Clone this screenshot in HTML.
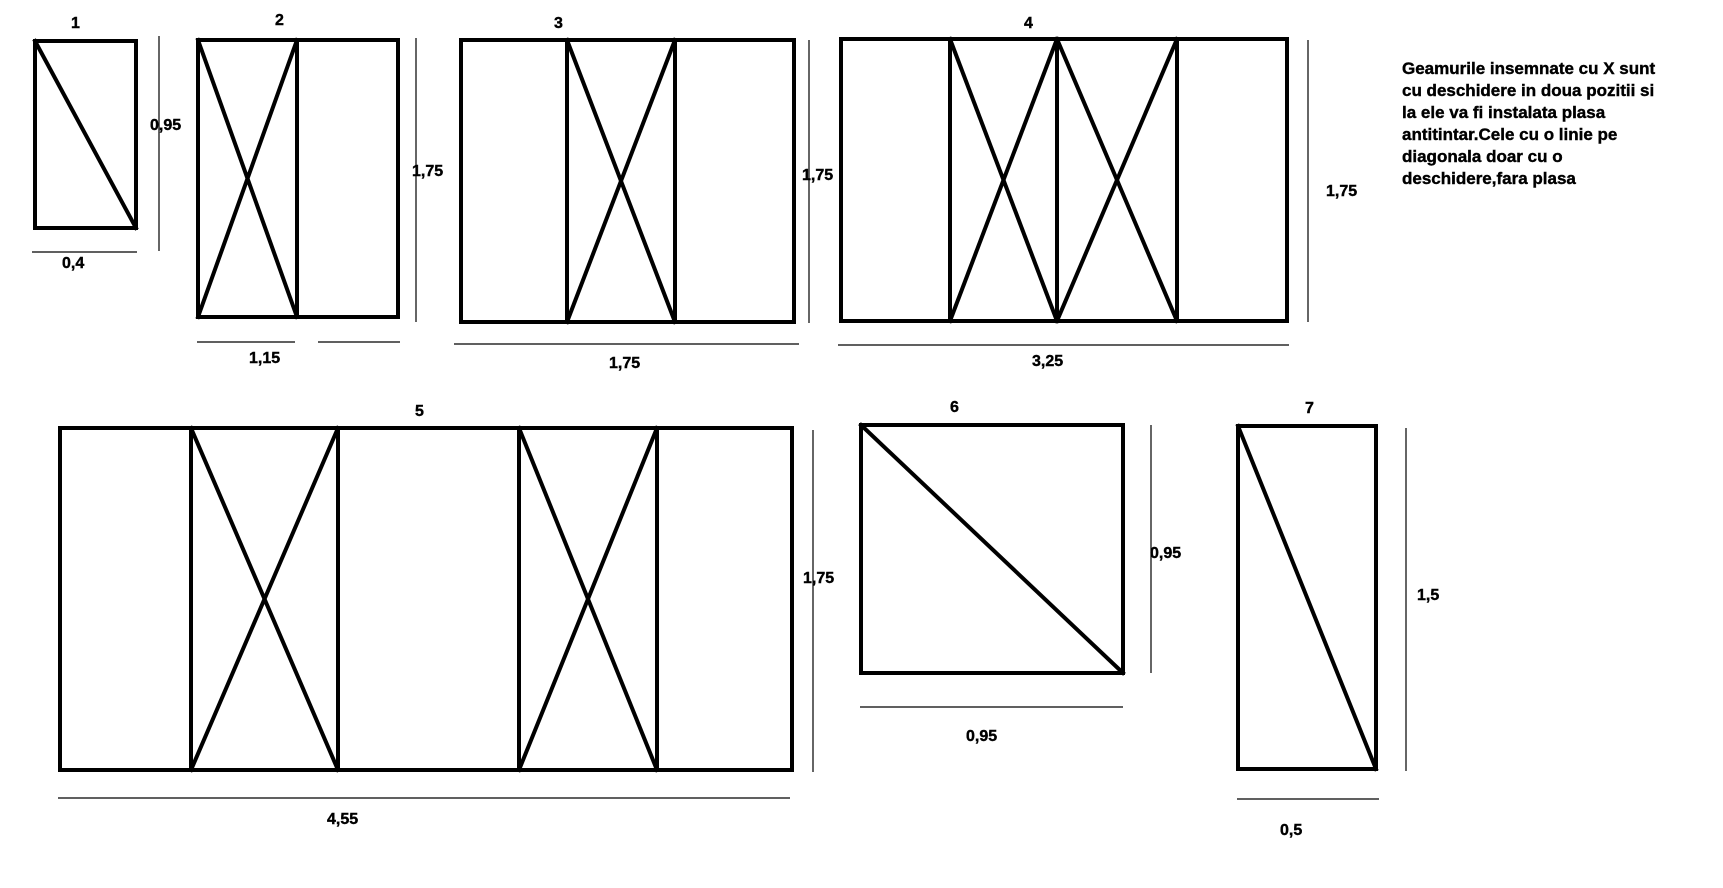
<!DOCTYPE html>
<html><head><meta charset="utf-8"><style>
html,body{margin:0;padding:0;background:#fff;}
svg{display:block;}
text{font-family:"Liberation Sans",Arial,sans-serif;font-weight:bold;font-size:16px;fill:#000;stroke:#000;stroke-width:0.4px;}
</style></head><body>
<svg width="1723" height="888" viewBox="0 0 1723 888" xmlns="http://www.w3.org/2000/svg">
<g fill="none" stroke="#000" stroke-width="4" stroke-linecap="square">
<rect x="35" y="41" width="101" height="187"/>
<line x1="35" y1="41" x2="136" y2="228"/>
<rect x="198" y="40" width="200" height="277"/>
<line x1="297" y1="40" x2="297" y2="317"/>
<line x1="198" y1="40" x2="297" y2="317"/><line x1="297" y1="40" x2="198" y2="317"/>
<rect x="461" y="40" width="333" height="282"/>
<line x1="567" y1="40" x2="567" y2="322"/><line x1="675" y1="40" x2="675" y2="322"/>
<line x1="567" y1="40" x2="675" y2="322"/><line x1="675" y1="40" x2="567" y2="322"/>
<rect x="841" y="39" width="446" height="282"/>
<line x1="950" y1="39" x2="950" y2="321"/><line x1="1057" y1="39" x2="1057" y2="321"/><line x1="1177" y1="39" x2="1177" y2="321"/>
<line x1="950" y1="39" x2="1057" y2="321"/><line x1="1057" y1="39" x2="950" y2="321"/>
<line x1="1057" y1="39" x2="1177" y2="321"/><line x1="1177" y1="39" x2="1057" y2="321"/>
<rect x="60" y="428" width="732" height="342"/>
<line x1="191" y1="428" x2="191" y2="770"/><line x1="338" y1="428" x2="338" y2="770"/>
<line x1="519" y1="428" x2="519" y2="770"/><line x1="657" y1="428" x2="657" y2="770"/>
<line x1="191" y1="428" x2="338" y2="770"/><line x1="338" y1="428" x2="191" y2="770"/>
<line x1="519" y1="428" x2="657" y2="770"/><line x1="657" y1="428" x2="519" y2="770"/>
<rect x="861" y="425" width="262" height="248"/>
<line x1="861" y1="425" x2="1123" y2="673"/>
<rect x="1238" y="426" width="138" height="343"/>
<line x1="1238" y1="426" x2="1376" y2="769"/>
</g>
<g stroke="#000" stroke-width="1.2">
<line x1="159" y1="36" x2="159" y2="251"/><line x1="32" y1="252" x2="137" y2="252"/>
<line x1="416" y1="38" x2="416" y2="322"/><line x1="197" y1="342" x2="295" y2="342"/><line x1="318" y1="342" x2="400" y2="342"/>
<line x1="809" y1="40" x2="809" y2="323"/><line x1="454" y1="344" x2="799" y2="344"/>
<line x1="1308" y1="40" x2="1308" y2="322"/><line x1="838" y1="345" x2="1289" y2="345"/>
<line x1="813" y1="430" x2="813" y2="772"/><line x1="58" y1="798" x2="790" y2="798"/>
<line x1="1151" y1="425" x2="1151" y2="673"/><line x1="860" y1="707" x2="1123" y2="707"/>
<line x1="1406" y1="428" x2="1406" y2="771"/><line x1="1237" y1="799" x2="1379" y2="799"/>
</g>
<text x="71" y="28">1</text>
<text x="150" y="130">0,95</text>
<text x="62" y="268">0,4</text>
<text x="275" y="25">2</text>
<text x="412" y="176">1,75</text>
<text x="249" y="363">1,15</text>
<text x="554" y="28">3</text>
<text x="802" y="180">1,75</text>
<text x="609" y="368">1,75</text>
<text x="1024" y="28">4</text>
<text x="1032" y="366">3,25</text>
<text x="1326" y="196">1,75</text>
<text x="415" y="416">5</text>
<text x="803" y="583">1,75</text>
<text x="327" y="824">4,55</text>
<text x="950" y="412">6</text>
<text x="1150" y="558">0,95</text>
<text x="966" y="741">0,95</text>
<text x="1305" y="413">7</text>
<text x="1417" y="600">1,5</text>
<text x="1280" y="835">0,5</text>
<text x="1402" y="74" style="font-size:17px">Geamurile insemnate cu X sunt</text>
<text x="1402" y="96" style="font-size:17px">cu deschidere in doua pozitii si</text>
<text x="1402" y="118" style="font-size:17px">la ele va fi instalata plasa</text>
<text x="1402" y="140" style="font-size:17px">antitintar.Cele cu o linie pe</text>
<text x="1402" y="162" style="font-size:17px">diagonala doar cu o</text>
<text x="1402" y="184" style="font-size:17px">deschidere,fara plasa</text>
</svg>
</body></html>
